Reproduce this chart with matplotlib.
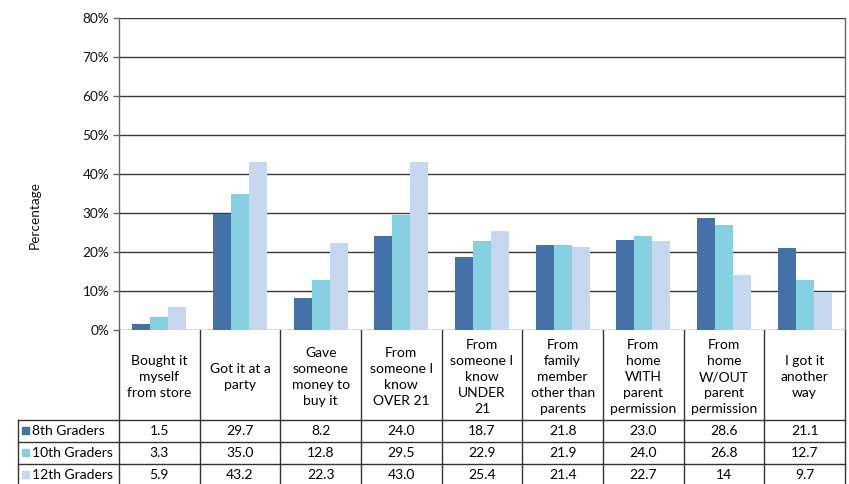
import matplotlib
matplotlib.use("Agg")
import matplotlib.pyplot as plt
import matplotlib.transforms as mtransforms
from matplotlib.ticker import FuncFormatter
import numpy as np

plt.rcParams['font.family'] = ['Lato', 'DejaVu Sans']

categories = [
    "Bought it\nmyself\nfrom store",
    "Got it at a\nparty",
    "Gave\nsomeone\nmoney to\nbuy it",
    "From\nsomeone I\nknow\nOVER 21",
    "From\nsomeone I\nknow\nUNDER\n21",
    "From\nfamily\nmember\nother than\nparents",
    "From\nhome\nWITH\nparent\npermission",
    "From\nhome\nW/OUT\nparent\npermission",
    "I got it\nanother\nway",
]
series_names = ["8th Graders", "10th Graders", "12th Graders"]
grade8 = [1.5, 29.7, 8.2, 24.0, 18.7, 21.8, 23.0, 28.6, 21.1]
grade10 = [3.3, 35.0, 12.8, 29.5, 22.9, 21.9, 24.0, 26.8, 12.7]
grade12 = [5.9, 43.2, 22.3, 43.0, 25.4, 21.4, 22.7, 14, 9.7]
labels8 = ["1.5", "29.7", "8.2", "24.0", "18.7", "21.8", "23.0", "28.6", "21.1"]
labels10 = ["3.3", "35.0", "12.8", "29.5", "22.9", "21.9", "24.0", "26.8", "12.7"]
labels12 = ["5.9", "43.2", "22.3", "43.0", "25.4", "21.4", "22.7", "14", "9.7"]
yticks = [0, 10, 20, 30, 40, 50, 60, 70, 80]

colors = ["#4471A7", "#86D1E1", "#C6D7EF"]
series = [grade8, grade10, grade12]
row_labels = [labels8, labels10, labels12]

W, H = 849, 484
fig = plt.figure(figsize=(W / 100, H / 100), dpi=100)

# overlay axes in pixel coordinates (for the table region)
pix = fig.add_axes([0, 0, 1, 1])
pix.set_xlim(0, W)
pix.set_ylim(H, 0)
pix.axis("off")

x_left, x_right, y_top, y_zero = 119, 845, 18, 330
ax = fig.add_axes([x_left / W, (H - y_zero) / H, (x_right - x_left) / W, (y_zero - y_top) / H])

n = len(categories)
x = np.arange(n)
bw = 0.222
for k, (vals, c) in enumerate(zip(series, colors)):
    ax.bar(x + (k - 1) * bw, vals, width=bw, color=c, zorder=3, linewidth=0)

ax.set_xlim(-0.5, n - 0.5)
ax.set_ylim(0, 80)
ax.set_yticks(yticks)
ax.yaxis.set_major_formatter(FuncFormatter(lambda v, p: f"{int(v)}%"))
ax.grid(axis="y", color="#3a3a3a", linewidth=1.0, zorder=0)
ax.set_xticks([])
ax.tick_params(axis="y", length=4, width=1, color="#666666", labelsize=9.8, pad=3, labelcolor="#111111")
for s in ["top", "bottom"]:
    ax.spines[s].set_visible(False)
ax.spines["left"].set_color("#666666")
ax.spines["right"].set_color("#666666")
ax.spines["left"].set_linewidth(1.0)
ax.spines["right"].set_linewidth(1.0)

fig.text(35 / W, 1 - 215 / H, "Percentage", rotation=90, ha="center", va="center",
         fontsize=9.8, color="#111111")

# table: x in category data coordinates, y in pixel coordinates
tr = mtransforms.blended_transform_factory(ax.transData, pix.transData)
lc = "#333333"
lw = 1.0
header_bottom = 420
row_h = 22
rows_y = [header_bottom + i * row_h for i in range(4)]
label_left_px = 18
fs = 10

# vertical lines through header and rows
for i in range(n + 1):
    xv = i - 0.5
    pix.plot([xv, xv], [y_zero, H + 5], color=lc, lw=lw, transform=tr, clip_on=False)
# left border of row-label column
pix.plot([label_left_px, label_left_px], [header_bottom, H + 5], color=lc, lw=lw, clip_on=False)
# horizontal lines
for yv in rows_y:
    pix.plot([label_left_px, x_right], [yv, yv], color=lc, lw=lw, clip_on=False)

# header text
for i, cat in enumerate(categories):
    pix.text(i, (y_zero + header_bottom) / 2 + 2, cat, transform=tr, ha="center", va="center",
             fontsize=fs, linespacing=1.4, color="#000000")

# rows
for r, (name, labs, c) in enumerate(zip(series_names, row_labels, colors)):
    yc = rows_y[r] + row_h / 2
    pix.add_patch(plt.Rectangle((22, yc - 4), 7, 7, color=c, clip_on=False))
    pix.text(32, yc, name, ha="left", va="center", fontsize=fs, color="#000000")
    for i, lab in enumerate(labs):
        pix.text(i, yc, lab, transform=tr, ha="center", va="center", fontsize=fs, color="#000000")

fig.savefig("out.png", dpi=100)
